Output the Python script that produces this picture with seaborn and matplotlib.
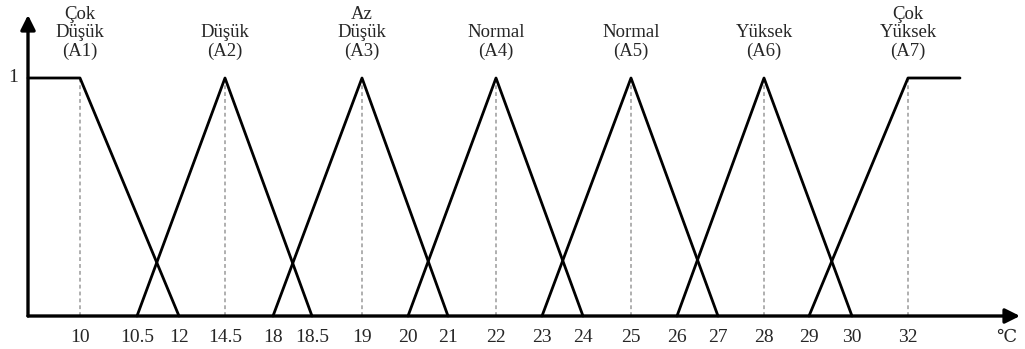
import numpy as np
import pandas as pd
import matplotlib.pyplot as plt
import seaborn as sns

# 模糊集合（温度 ℃）
tick_vals = [10, 10.5, 12, 14.5, 18, 18.5, 19, 20, 21, 22, 23, 24, 25, 26, 27, 28, 29, 30, 32]
set_ids = ['A1', 'A2', 'A3', 'A4', 'A5', 'A6', 'A7']
set_names = ['Çok\nDüşük', 'Düşük', 'Az\nDüşük', 'Normal', 'Normal', 'Yüksek', 'Çok\nYüksek']
left = [None, 10.5, 18, 20, 23, 26, 29]    # None = shoulder
peak = [10, 14.5, 19, 22, 25, 28, 32]
right = [12, 18.5, 21, 24, 27, 30, None]

# layout: the drawn axis is not linear, each tick has its own place (pixels)
tick_pos = [80, 137, 179, 225, 273, 312, 362, 408, 448, 496, 542, 583, 631, 677, 718, 764, 809, 852, 908]
x_origin, x_plateau_end, x_arrow_end = 28, 960, 1020
W, H = 1025, 349
y0_px, y1_px = 316, 78          # pixel rows of mu=0 and mu=1 (from top)
unit = y0_px - y1_px


def to_pos(v):
    return float(np.interp(v, tick_vals, tick_pos))


def px_to_y(py):
    return (y0_px - py) / unit


rows = []
for sid, l, p, r in zip(set_ids, left, peak, right):
    xs = [x_origin if l is None else to_pos(l), to_pos(p), x_plateau_end if r is None else to_pos(r)]
    ys = [1 if l is None else 0, 1, 1 if r is None else 0]
    for x, y in zip(xs, ys):
        rows.append({'set': sid, 'x': x, 'mu': y})
df = pd.DataFrame(rows)

sns.set_theme(style='white')
plt.rcParams['font.family'] = ['Liberation Serif', 'DejaVu Serif']

fig = plt.figure(figsize=(W / 100, H / 100), dpi=100)
ax = fig.add_axes([0, 0, 1, 1])
ax.set_xlim(0, W)
ax.set_ylim(px_to_y(H), px_to_y(0))
ax.axis('off')

# dashed guides under each peak
ax.vlines([to_pos(p) for p in peak], 0, 1, colors='#9a9a9a', linestyles=(0, (2.5, 2)), lw=1.1)

sns.lineplot(data=df, x='x', y='mu', hue='set', palette=['black'] * len(set_ids),
             legend=False, estimator=None, sort=False, linewidth=2, ax=ax)

# axes with arrows
arrow = dict(arrowstyle='-|>', lw=2.4, color='black', mutation_scale=22, shrinkA=0, shrinkB=0)
ax.annotate('', xy=(x_arrow_end, 0), xytext=(x_origin, 0), arrowprops=arrow)
ax.annotate('', xy=(x_origin, px_to_y(15)), xytext=(x_origin, 0), arrowprops=arrow)

# tick labels
for v in tick_vals:
    ax.text(to_pos(v), px_to_y(338), f'{v:g}', ha='center', va='center', fontsize=14)
ax.text(1006, px_to_y(338), '℃', ha='center', va='center', fontsize=13)
ax.text(13, 1, '1', ha='center', va='center', fontsize=14)

# set labels
for sid, name, p in zip(set_ids, set_names, peak):
    ax.text(to_pos(p), px_to_y(60), f'{name}\n({sid})', ha='center', va='bottom',
            fontsize=13.5, linespacing=1.1)

fig.savefig('out.png', dpi=100)
